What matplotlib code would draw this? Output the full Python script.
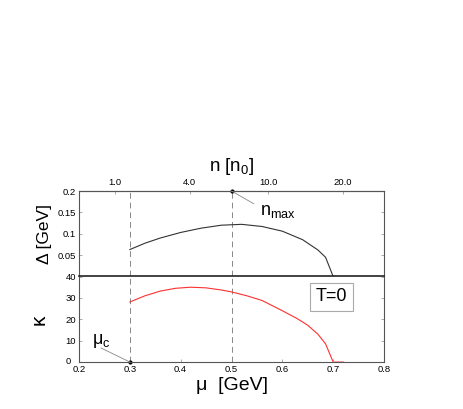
import matplotlib
matplotlib.use("Agg")
import matplotlib.pyplot as plt
from matplotlib.transforms import ScaledTranslation
import numpy as np

plt.rcParams["font.family"] = ["Liberation Sans", "DejaVu Sans"]
plt.rcParams["mathtext.fontset"] = "custom"
plt.rcParams["mathtext.rm"] = "Liberation Sans"
plt.rcParams["mathtext.it"] = "Liberation Sans"

# gap Delta(mu) at T=0
mu_gap = [0.30, 0.33, 0.36, 0.40, 0.44, 0.48, 0.52, 0.56, 0.60, 0.64, 0.67, 0.685, 0.70]
gap = [0.063, 0.078, 0.090, 0.103, 0.113, 0.120, 0.122, 0.117, 0.106, 0.086, 0.062, 0.045, 0.0]

# kappa(mu) at T=0
mu_kap = [0.30, 0.33, 0.36, 0.39, 0.42, 0.45, 0.48, 0.50, 0.53, 0.56, 0.60, 0.63, 0.65, 0.67, 0.685, 0.70]
kappa = [28.1, 31.0, 33.2, 34.5, 35.0, 34.7, 33.7, 32.8, 31.0, 28.8, 24.0, 20.2, 17.2, 13.0, 8.5, 0.0]
mu_tail = [0.70, 0.72]
kappa_tail = [0.0, 0.0]

# top axis: density in units of n0
n_pos = [0.271, 0.418, 0.572, 0.719]
n_labels = ["1.0", "4.0", "10.0", "20.0"]

mu_ticks = [0.2, 0.3, 0.4, 0.5, 0.6, 0.7, 0.8]
gap_ticks = [0.05, 0.1, 0.15, 0.2]
kap_ticks = [0, 10, 20, 30, 40]
mu_marks = [0.3, 0.5]

fig = plt.figure(figsize=(4.63, 4.09), dpi=100)
ax1 = fig.add_axes([0.1706, 0.3240, 0.6588, 0.209])
ax2 = fig.add_axes([0.1706, 0.1149, 0.6588, 0.209])

spine_col = "#555555"
for ax in (ax1, ax2):
    ax.set_xlim(0.2, 0.8)
    for s in ax.spines.values():
        s.set_color(spine_col)
        s.set_linewidth(0.8)
    ax.tick_params(direction="in", length=2.5, width=0.5, color="#888888",
                   labelsize=6.8, right=True, pad=2)
    for m in mu_marks:
        ax.axvline(m, color="#888888", lw=0.7, ls=(0, (6, 4)))

ax1.plot(mu_gap, gap, color="#333333", lw=0.8)
ax1.set_ylim(0, 0.2)
ax1.set_yticks(gap_ticks, ["0.05", "0.1", "0.15", "0.2"])
ax1.set_xticks(mu_ticks, [])
ax1.tick_params(axis="x", bottom=False)
ax1.spines["bottom"].set_color("#222222")
ax1.spines["bottom"].set_linewidth(1.2)
ax1.set_ylabel("Δ [GeV]", fontsize=12.5, labelpad=4)

top = ax1.secondary_xaxis("top")
top.set_xticks(n_pos, n_labels)
top.tick_params(direction="in", length=2.5, width=0.5, color="#888888", labelsize=6.8, pad=3)
top.spines["top"].set_color(spine_col)
top.set_xlabel("n [n$_0$]", fontsize=13.5, labelpad=5)

ax1.plot([0.5], [0.2], "o", color="black", ms=2, clip_on=False)
ax1.annotate("", xy=(0.5, 0.2), xytext=(0.544, 0.170),
             arrowprops=dict(arrowstyle="-", color="#888888", lw=0.6, shrinkA=0, shrinkB=0))
ax1.text(0.556, 0.151, "n$_{max}$", fontsize=13, va="center", ha="left")

ax2.plot(mu_kap, kappa, color="#ff3030", lw=0.8)
ax2.plot(mu_tail, kappa_tail, color="#ff9090", lw=1.2)
ax2.set_ylim(0, 40)
ax2.set_yticks(kap_ticks)
ax2.set_xticks(mu_ticks, ["0.2", "0.3", "0.4", "0.5", "0.6", "0.7", "0.8"])
ax2.spines["top"].set_visible(False)
ax2.set_ylabel("κ", fontsize=15, labelpad=12)
ax2.set_xlabel("μ  [GeV]", fontsize=14, labelpad=2)

# the "0" tick label sits a little left of the others
zero = ax2.get_yticklabels()[0]
zero.set_transform(zero.get_transform() + ScaledTranslation(-5 / 100, 2 / 100, fig.dpi_scale_trans))

ax2.plot([0.3], [0], "o", color="black", ms=2, clip_on=False)
ax2.annotate("", xy=(0.3, 0), xytext=(0.243, 6.6),
             arrowprops=dict(arrowstyle="-", color="#888888", lw=0.6, shrinkA=0, shrinkB=0))
ax2.text(0.226, 10.0, "μ$_c$", fontsize=13, va="center", ha="left")

ax2.text(0.697, 30.6, "T=0", fontsize=13, ha="center", va="center",
         bbox=dict(boxstyle="square,pad=0.3", fc="white", ec="#aaaaaa", lw=0.8))

fig.savefig("out.png", dpi=100)
